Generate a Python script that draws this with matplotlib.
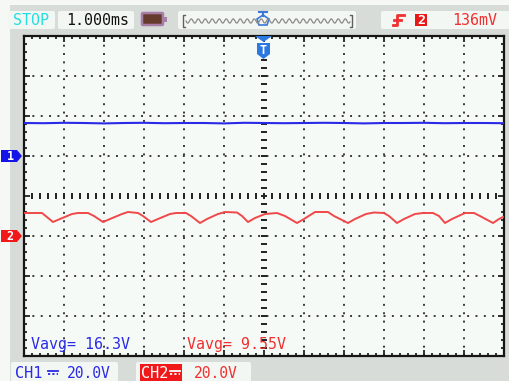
import numpy as np
import matplotlib
matplotlib.use("Agg")
import matplotlib.pyplot as plt
from matplotlib.ticker import MultipleLocator
from matplotlib.patches import FancyBboxPatch, Rectangle, Polygon

# ---- acquisition settings ----
time_per_div_ms = 1.0
ch1_volts_per_div = 20.0
ch2_volts_per_div = 20.0
ch1_offset_div = 1.0
ch2_offset_div = -1.0

# ---- CH1: DC level ----
ch1_time_ms = [-6.0, -5.5, -5.0, -4.5, -4.0, -3.5, -3.0, -2.5, -2.0, -1.5, -1.0, -0.5,
               0.0, 0.5, 1.0, 1.5, 2.0, 2.5, 3.0, 3.5, 4.0, 4.5, 5.0, 5.5, 6.0]
ch1_volts = [16.5, 16.4, 16.6, 16.5, 16.3, 16.5, 16.6, 16.4, 16.5, 16.5, 16.3, 16.6,
             16.5, 16.4, 16.5, 16.6, 16.5, 16.3, 16.5, 16.5, 16.6, 16.4, 16.5, 16.5, 16.4]

# ---- CH2: rectified ripple ----
ch2_time_ms = [-6.0, -5.55, -5.275, -5.1, -4.8, -4.65, -4.4, -4.25, -4.025, -3.85, -3.55,
               -3.4, -3.15, -3.025, -2.825, -2.65, -2.35, -2.2, -1.95, -1.825, -1.6,
               -1.425, -1.15, -0.975, -0.675, -0.55, -0.4, -0.225, 0.025, 0.325, 0.525,
               0.825, 1.0, 1.275, 1.6, 1.75, 2.1, 2.275, 2.55, 2.75, 3.0, 3.125, 3.325,
               3.5, 3.775, 3.975, 4.225, 4.375, 4.525, 4.7, 5.025, 5.25, 5.4, 5.725,
               5.875, 5.975]
ch2_volts = [11.5, 11.5, 7.0, 8.5, 11.0, 11.5, 11.5, 10.0, 7.0, 8.5, 11.0,
             12.0, 11.5, 10.0, 7.0, 8.5, 11.0, 11.5, 11.5, 10.0, 6.5,
             8.5, 11.0, 12.0, 11.75, 10.0, 7.0, 9.0, 11.0, 11.5, 10.0,
             6.5, 8.5, 12.0, 12.0, 10.0, 6.5, 8.5, 11.0, 11.75, 11.5, 10.0, 6.5,
             8.5, 11.0, 11.5, 11.5, 10.0, 6.5, 8.5, 11.5, 11.5, 10.0, 6.5,
             8.5, 9.5]

ch1_avg_label = "16.3V"
ch2_avg_label = "9.55V"
ch1_scale_label = "20.0V"
ch2_scale_label = "20.0V"
timebase_label = "1.000ms"
trigger_level_label = "136mV"
run_state_label = "STOP"

# ---- colours ----
BEZEL = "#d8dcd8"
PANEL = "#f3f7f3"
SCREEN = "#f5faf7"
BLUE = "#2a2ae6"
RED = "#f03030"
TRACE_RED = "#f04848"
CYAN = "#22dede"
DOT = "#3a3a3a"
MONO = "DejaVu Sans Mono"

W, H = 509, 381
fig = plt.figure(figsize=(W / 100, H / 100), dpi=100, facecolor=BEZEL)

# screen area in pixels: x 24..504, y 36..356
sx0, sy0, sw, sh = 24, 36, 480, 320
ax = fig.add_axes([sx0 / W, 1 - (sy0 + sh) / H, sw / W, sh / H])
ax.set_facecolor(SCREEN)
ax.set_xlim(-6, 6)
ax.set_ylim(-4, 4)
ax.xaxis.set_major_locator(MultipleLocator(1))
ax.xaxis.set_minor_locator(MultipleLocator(0.2))
ax.yaxis.set_major_locator(MultipleLocator(1))
ax.yaxis.set_minor_locator(MultipleLocator(0.2))
ax.tick_params(which="both", direction="in", top=True, right=True,
               labelbottom=False, labelleft=False, color="#202020")
ax.tick_params(which="major", length=4.5, width=1.3)
ax.tick_params(which="minor", length=2.4, width=1.3)
for s in ax.spines.values():
    s.set_color("#151515")
    s.set_linewidth(1.6)

# dotted graticule
for gx in range(-5, 6):
    if gx != 0:
        ax.axvline(gx, color=DOT, lw=1.4, ls=(0, (1, 3.3)), dash_capstyle="butt", zorder=1)
for gy in range(-3, 4):
    if gy != 0:
        ax.axhline(gy, color=DOT, lw=1.4, ls=(0, (1, 3.3)), dash_capstyle="butt", zorder=1)
# centre cross with minor marks
marks = np.arange(-6, 6.001, 0.2)
ax.plot(marks, np.zeros_like(marks), ls="none", marker="|", ms=4.5, mew=1.4,
        color="#202020", zorder=1)
vmarks = np.arange(-4, 4.001, 0.2)
ax.plot(np.zeros_like(vmarks), vmarks, ls="none", marker="_", ms=4.5, mew=1.4,
        color="#202020", zorder=1)

# traces
t1 = np.array(ch1_time_ms) / time_per_div_ms
y1 = np.array(ch1_volts) / ch1_volts_per_div + ch1_offset_div
ax.plot(t1, y1, color=BLUE, lw=1.5, zorder=3)
t2 = np.array(ch2_time_ms) / time_per_div_ms
y2 = np.array(ch2_volts) / ch2_volts_per_div + ch2_offset_div
ax.plot(t2, y2, color=TRACE_RED, lw=1.4, zorder=3)

# ---- pixel overlay for panels and markers ----
ov = fig.add_axes([0, 0, 1, 1])
ov.set_xlim(0, W)
ov.set_ylim(H, 0)
ov.axis("off")
ov.patch.set_alpha(0)
ov.set_zorder(5)

ov.add_patch(Rectangle((0, 0), W, 5, color="#f6f8f6", lw=0))
ov.add_patch(Rectangle((0, 0), 10, H, color="#f6f8f6", lw=0))


def panel(x0, y0, x1, y1, fc=PANEL):
    ov.add_patch(FancyBboxPatch((x0 + 2, y0 + 2), x1 - x0 - 4, y1 - y0 - 4,
                                boxstyle="round,pad=2", fc=fc, ec="none"))


def label(x, y, s, color, size=10.8, ha="left"):
    ov.text(x, y, s, color=color, fontsize=size, family=MONO, ha=ha, va="center")


# top bar
panel(8, 11, 55, 29)
label(31.5, 20.5, run_state_label, CYAN, ha="center")
panel(58, 11, 134, 29)
label(66, 20.5, timebase_label, "#111111")
# battery
ov.add_patch(FancyBboxPatch((143, 14), 19, 10, boxstyle="round,pad=1",
                            fc="#663a2c", ec="#a67ea6", lw=1.8))
ov.add_patch(Rectangle((163.5, 16.5), 4, 5.5, fc="#a67ea6", ec="none"))
# memory overview
panel(178, 11, 356, 29)
ow = np.arange(186, 350.5, 1.0)
ov.plot(ow, 21 + 2.2 * np.sin((ow - 186) * 2 * np.pi / 7.0), color="#8a8a8a", lw=0.9)
ov.plot([185, 183, 183, 185], [15, 15, 27, 27], color="#606060", lw=1)
ov.plot([350, 352, 352, 350], [15, 15, 27, 27], color="#606060", lw=1)
ov.plot([259, 267], [11.5, 11.5], color="#3a78d8", lw=1.5)
ov.plot([263, 263], [11.5, 16], color="#3a78d8", lw=1.5)
ov.add_patch(Polygon([[257, 19], [263, 15], [269, 19], [267, 25], [259, 25]],
                     closed=True, fc="none", ec="#3a78d8", lw=1.2))
# trigger panel
panel(381, 11, 512, 29)
ov.plot([393, 397.5, 397.5, 404], [25, 25, 15, 15], color=RED, lw=2)
ov.plot([394, 401], [20, 20], color=RED, lw=2)
ov.add_patch(Rectangle((415, 14), 12, 12, fc="#e81818", ec="none"))
ov.text(421, 20.5, "2", color="white", fontsize=9.5, family=MONO, ha="center",
        va="center", weight="bold")
label(452, 20.5, trigger_level_label, RED)

# trigger position marker on top border
ov.add_patch(Polygon([[255, 36], [272, 36], [263.5, 42]], closed=True, fc="#2a78e0", ec="none"))
ov.add_patch(Polygon([[257, 43], [270, 43], [270, 54], [263.5, 59], [257, 54]],
                     closed=True, fc="#2a78e0", ec="none"))
ov.text(263.5, 50, "T", color="white", fontsize=8.5, family=MONO, ha="center",
        va="center", weight="bold")


# channel ground markers
def ground_tag(y, fc, txt):
    ov.add_patch(Polygon([[1, y - 6], [17, y - 6], [22, y], [17, y + 6], [1, y + 6]],
                         closed=True, fc=fc, ec="none"))
    ov.text(10, y + 0.5, txt, color="white", fontsize=8.5, family=MONO, ha="center",
            va="center", weight="bold")


ground_tag(156, "#1414e6", "1")
ground_tag(236, "#f01818", "2")

# measurement readouts inside the screen
label(31, 344, "Vavg= " + ch1_avg_label, BLUE, size=10.8)
label(187, 344, "Vavg= " + ch2_avg_label, RED, size=10.8)

# bottom bar: channel scales
panel(11, 362, 118, 385)
label(15, 373, "CH1", BLUE, size=11)
ov.plot([48, 58], [370.5, 370.5], color=BLUE, lw=1.3)
ov.plot([48, 58], [374, 374], color=BLUE, lw=1.3, ls=(0, (1.2, 1.2)))
label(67, 373, ch1_scale_label, BLUE, size=10.5)

panel(136, 362, 251, 385)
ov.add_patch(Rectangle((140, 364), 42, 18, fc="#f01818", ec="none"))
label(141, 373, "CH2", "white", size=11)
ov.plot([170, 180], [370.5, 370.5], color="white", lw=1.3)
ov.plot([170, 180], [374, 374], color="white", lw=1.3, ls=(0, (1.2, 1.2)))
label(194, 373, ch2_scale_label, RED, size=10.5)

fig.savefig("out.png", dpi=100, facecolor=fig.get_facecolor())
